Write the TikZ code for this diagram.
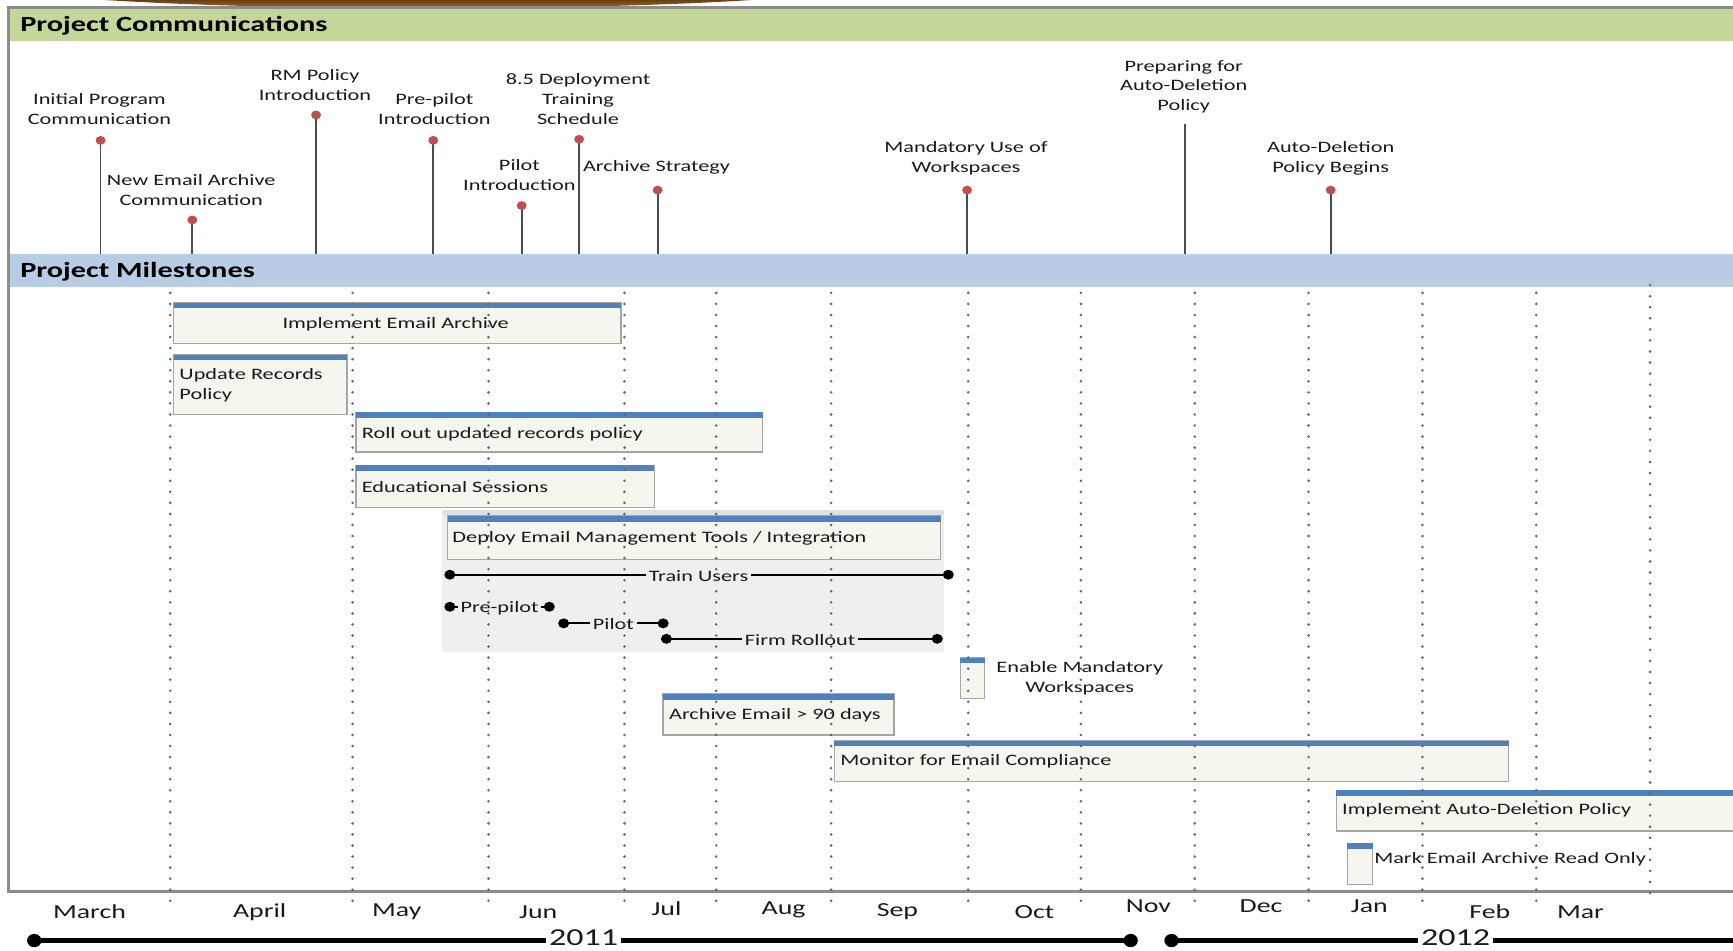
\documentclass[tikz,border=0pt]{standalone}
\usepackage{fontspec}
\setmainfont{Carlito}[FakeStretch=1.4]
\definecolor{greenhdr}{HTML}{C4D79B}
\definecolor{bluehdr}{HTML}{B8CCE4}
\definecolor{stripe}{HTML}{4F81BD}
\definecolor{cream}{HTML}{F5F6EE}
\definecolor{grp}{HTML}{EFEFEF}
\definecolor{pinred}{HTML}{C0504D}
\definecolor{framegray}{HTML}{8C8C8C}
\definecolor{txt}{HTML}{1A1A1A}
\definecolor{brownA}{HTML}{6B3F14}
\definecolor{brownB}{HTML}{B87A2E}
\begin{document}
\begin{tikzpicture}[x=0.5pt,y=-0.5pt,
  lab/.style={text=txt,font=\fontsize{7.2}{9}\selectfont,align=center,inner sep=0pt},
  tasklab/.style={text=txt,font=\fontsize{7.2}{9}\selectfont,align=left,inner sep=0pt,anchor=west},
  hdr/.style={text=black,font=\bfseries\fontsize{9.8}{11}\selectfont,inner sep=0pt,anchor=west},
  month/.style={text=txt,font=\fontsize{9}{10}\selectfont,inner sep=0pt},
  yearlab/.style={text=txt,font=\fontsize{11}{12}\selectfont,inner sep=1pt},
  stem/.style={draw=black!70,line width=0.8pt},
  pindot/.style={fill=pinred},
  taskbox/.style={draw=black!35,fill=cream,line width=0.6pt},
  stripebar/.style={fill=stripe},
  grid/.style={draw=black!60,line width=1.3pt,line cap=round,dash pattern=on 0pt off 5pt},
  span/.style={draw=black,line width=0.8pt},
  spanlab/.style={text=txt,font=\fontsize{7.2}{9}\selectfont,inner sep=1pt},
  yearline/.style={draw=black,line width=2pt},
  frame/.style={draw=framegray,line width=1.3pt}
]
\useasboundingbox (0,0) rectangle (1568,860);
\clip (0,0) rectangle (1568,860);

% decorative arc at top
\shade[top color=brownA,bottom color=brownB] (95,0) .. controls (250,10) and (525,10) .. (680,0) -- cycle;

% headers and frame
\fill[greenhdr] (8,7) rectangle (1570,37);
\fill[bluehdr] (8,230) rectangle (1570,260);
\draw[frame] (1572,7) -- (8,7) -- (8,807) -- (1572,807);
\node[hdr] (hc) at (18,23) {Project Communications};
\node[hdr] (hm) at (18,246) {Project Milestones};

% communication pins
\foreach \n/\x/\y in {1/91/127,2/174/199,3/286/104,4/392/127,5/472/186,6/524/126,7/595/172,8/875/172,10/1204/172}{
  \coordinate (d\n) at (\x,\y);
  \coordinate (b\n) at (\x,230);
  \draw[stem] (d\n) -- (b\n);
  \fill[pindot] (d\n) ellipse (4.5 and 4);
}
\coordinate (d9) at (1072,112);
\coordinate (b9) at (1072,230);
\draw[stem] (d9) -- (b9);

\node[lab] (c1) at (90,99) {Initial Program\\Communication};
\node[lab] (c2) at (173,172) {New Email Archive\\Communication};
\node[lab] (c3) at (285,77) {RM Policy\\Introduction};
\node[lab] (c4) at (393,99) {Pre-pilot\\Introduction};
\node[lab] (c5) at (470,158) {Pilot\\Introduction};
\node[lab] (c6) at (523,89.5) {8.5 Deployment\\Training\\Schedule};
\node[lab] (c7) at (594,151) {Archive Strategy};
\node[lab] (c8) at (874,143) {Mandatory Use of\\Workspaces};
\node[lab] (c9) at (1071,78.5) {Preparing for\\Auto-Deletion\\Policy};
\node[lab] (c10) at (1204,143) {Auto-Deletion\\Policy Begins};

% group background
\fill[grp] (400,461) rectangle (854,590);
\fill[black!12] (400,461) rectangle (854,466);

% task bars
\draw[taskbox] (157,274) rectangle (562,311);   \fill[stripebar] (157,274) rectangle (562,279);
\draw[taskbox] (157,321) rectangle (314,375);   \fill[stripebar] (157,321) rectangle (314,326);
\draw[taskbox] (322,373) rectangle (690,409);   \fill[stripebar] (322,373) rectangle (690,378);
\draw[taskbox] (322,421) rectangle (592,459);   \fill[stripebar] (322,421) rectangle (592,426);
\draw[taskbox] (405,467) rectangle (851,506);   \fill[stripebar] (405,467) rectangle (851,472);
\draw[taskbox] (869,595) rectangle (891,632);   \fill[stripebar] (869,595) rectangle (891,600);
\draw[taskbox] (600,628) rectangle (809,665);   \fill[stripebar] (600,628) rectangle (809,633);
\draw[taskbox] (755,670) rectangle (1365,707);  \fill[stripebar] (755,670) rectangle (1365,675);
\draw[taskbox] (1209,715) rectangle (1580,752); \fill[stripebar] (1209,715) rectangle (1580,720);
\draw[taskbox] (1219,763) rectangle (1242,800); \fill[stripebar] (1219,763) rectangle (1242,768);

\node[lab] (t1) at (358,293.5) {Implement Email Archive};
\node[tasklab] (t2) at (162,348.5) {Update Records\\Policy};
\node[tasklab] (t3) at (327,392.5) {Roll out updated records policy};
\node[tasklab] (t4) at (327,440.5) {Educational Sessions};
\node[tasklab] (t5) at (409,487.5) {Deploy Email Management Tools / Integration};
\node[lab] (t6) at (977,614) {Enable Mandatory\\Workspaces};
\node[tasklab] (t7) at (605,647.5) {Archive Email > 90 days};
\node[tasklab] (t8) at (760,688.5) {Monitor for Email Compliance};
\node[tasklab] (t9) at (1214,733.5) {Implement Auto-Deletion Policy};
\node[tasklab] (t10) at (1243,777.5) {Mark Email Archive Read Only};

% sub-spans
\coordinate (tuA) at (407,520); \coordinate (tuB) at (858,520);
\node[spanlab] (tu) at (632,521) {Train Users};
\draw[span] (tuA) -- (tu.west |- tuA); \draw[span] (tu.east |- tuB) -- (tuB);
\coordinate (ppA) at (407,549); \coordinate (ppB) at (497,549);
\node[spanlab] (pp) at (452,550) {Pre-pilot};
\draw[span] (ppA) -- (pp.west |- ppA); \draw[span] (pp.east |- ppB) -- (ppB);
\coordinate (plA) at (510,564); \coordinate (plB) at (600,564);
\node[spanlab] (pl) at (555,565) {Pilot};
\draw[span] (plA) -- (pl.west |- plA); \draw[span] (pl.east |- plB) -- (plB);
\coordinate (frA) at (603,578); \coordinate (frB) at (848,578);
\node[spanlab] (fr) at (724,579) {Firm Rollout};
\draw[span] (frA) -- (fr.west |- frA); \draw[span] (fr.east |- frB) -- (frB);
\foreach \p in {tuA,tuB,ppA,ppB,plA,plB,frA,frB}{\fill (\p) ellipse (5 and 4.5);}

% month grid
\foreach \x in {154,319,442,565,648,752,876,978,1081,1184,1287,1390}{
  \draw[grid] (\x,265) -- (\x,815);
}
\draw[grid] (1493,258) -- (1493,815);

% months
\node[month] (m1) at (81,825) {March};
\node[month] (m2) at (235,825) {April};
\node[month] (m3) at (359,825) {May};
\node[month] (m4) at (487,825) {Jun};
\node[month] (m5) at (603,822) {Jul};
\node[month] (m6) at (709,823) {Aug};
\node[month] (m7) at (812,825) {Sep};
\node[month] (m8) at (936,825) {Oct};
\node[month] (m9) at (1039,820) {Nov};
\node[month] (m10) at (1141,820) {Dec};
\node[month] (m11) at (1239,820) {Jan};
\node[month] (m12) at (1348,825) {Feb};
\node[month] (m13) at (1430,825) {Mar};

% years
\coordinate (yA) at (31,851); \coordinate (yB) at (1023,851);
\coordinate (yC) at (1060,851); \coordinate (yD) at (1575,851);
\node[yearlab] (y1) at (528,848) {2011};
\node[yearlab] (y2) at (1317,848) {2012};
\draw[yearline] (yA) -- (y1.west |- yA); \draw[yearline] (y1.east |- yB) -- (yB);
\draw[yearline] (yC) -- (y2.west |- yC); \draw[yearline] (y2.east |- yD) -- (yD);
\foreach \p in {yA,yB,yC}{\fill (\p) ellipse (6.5 and 6);}
\end{tikzpicture}
\end{document}
